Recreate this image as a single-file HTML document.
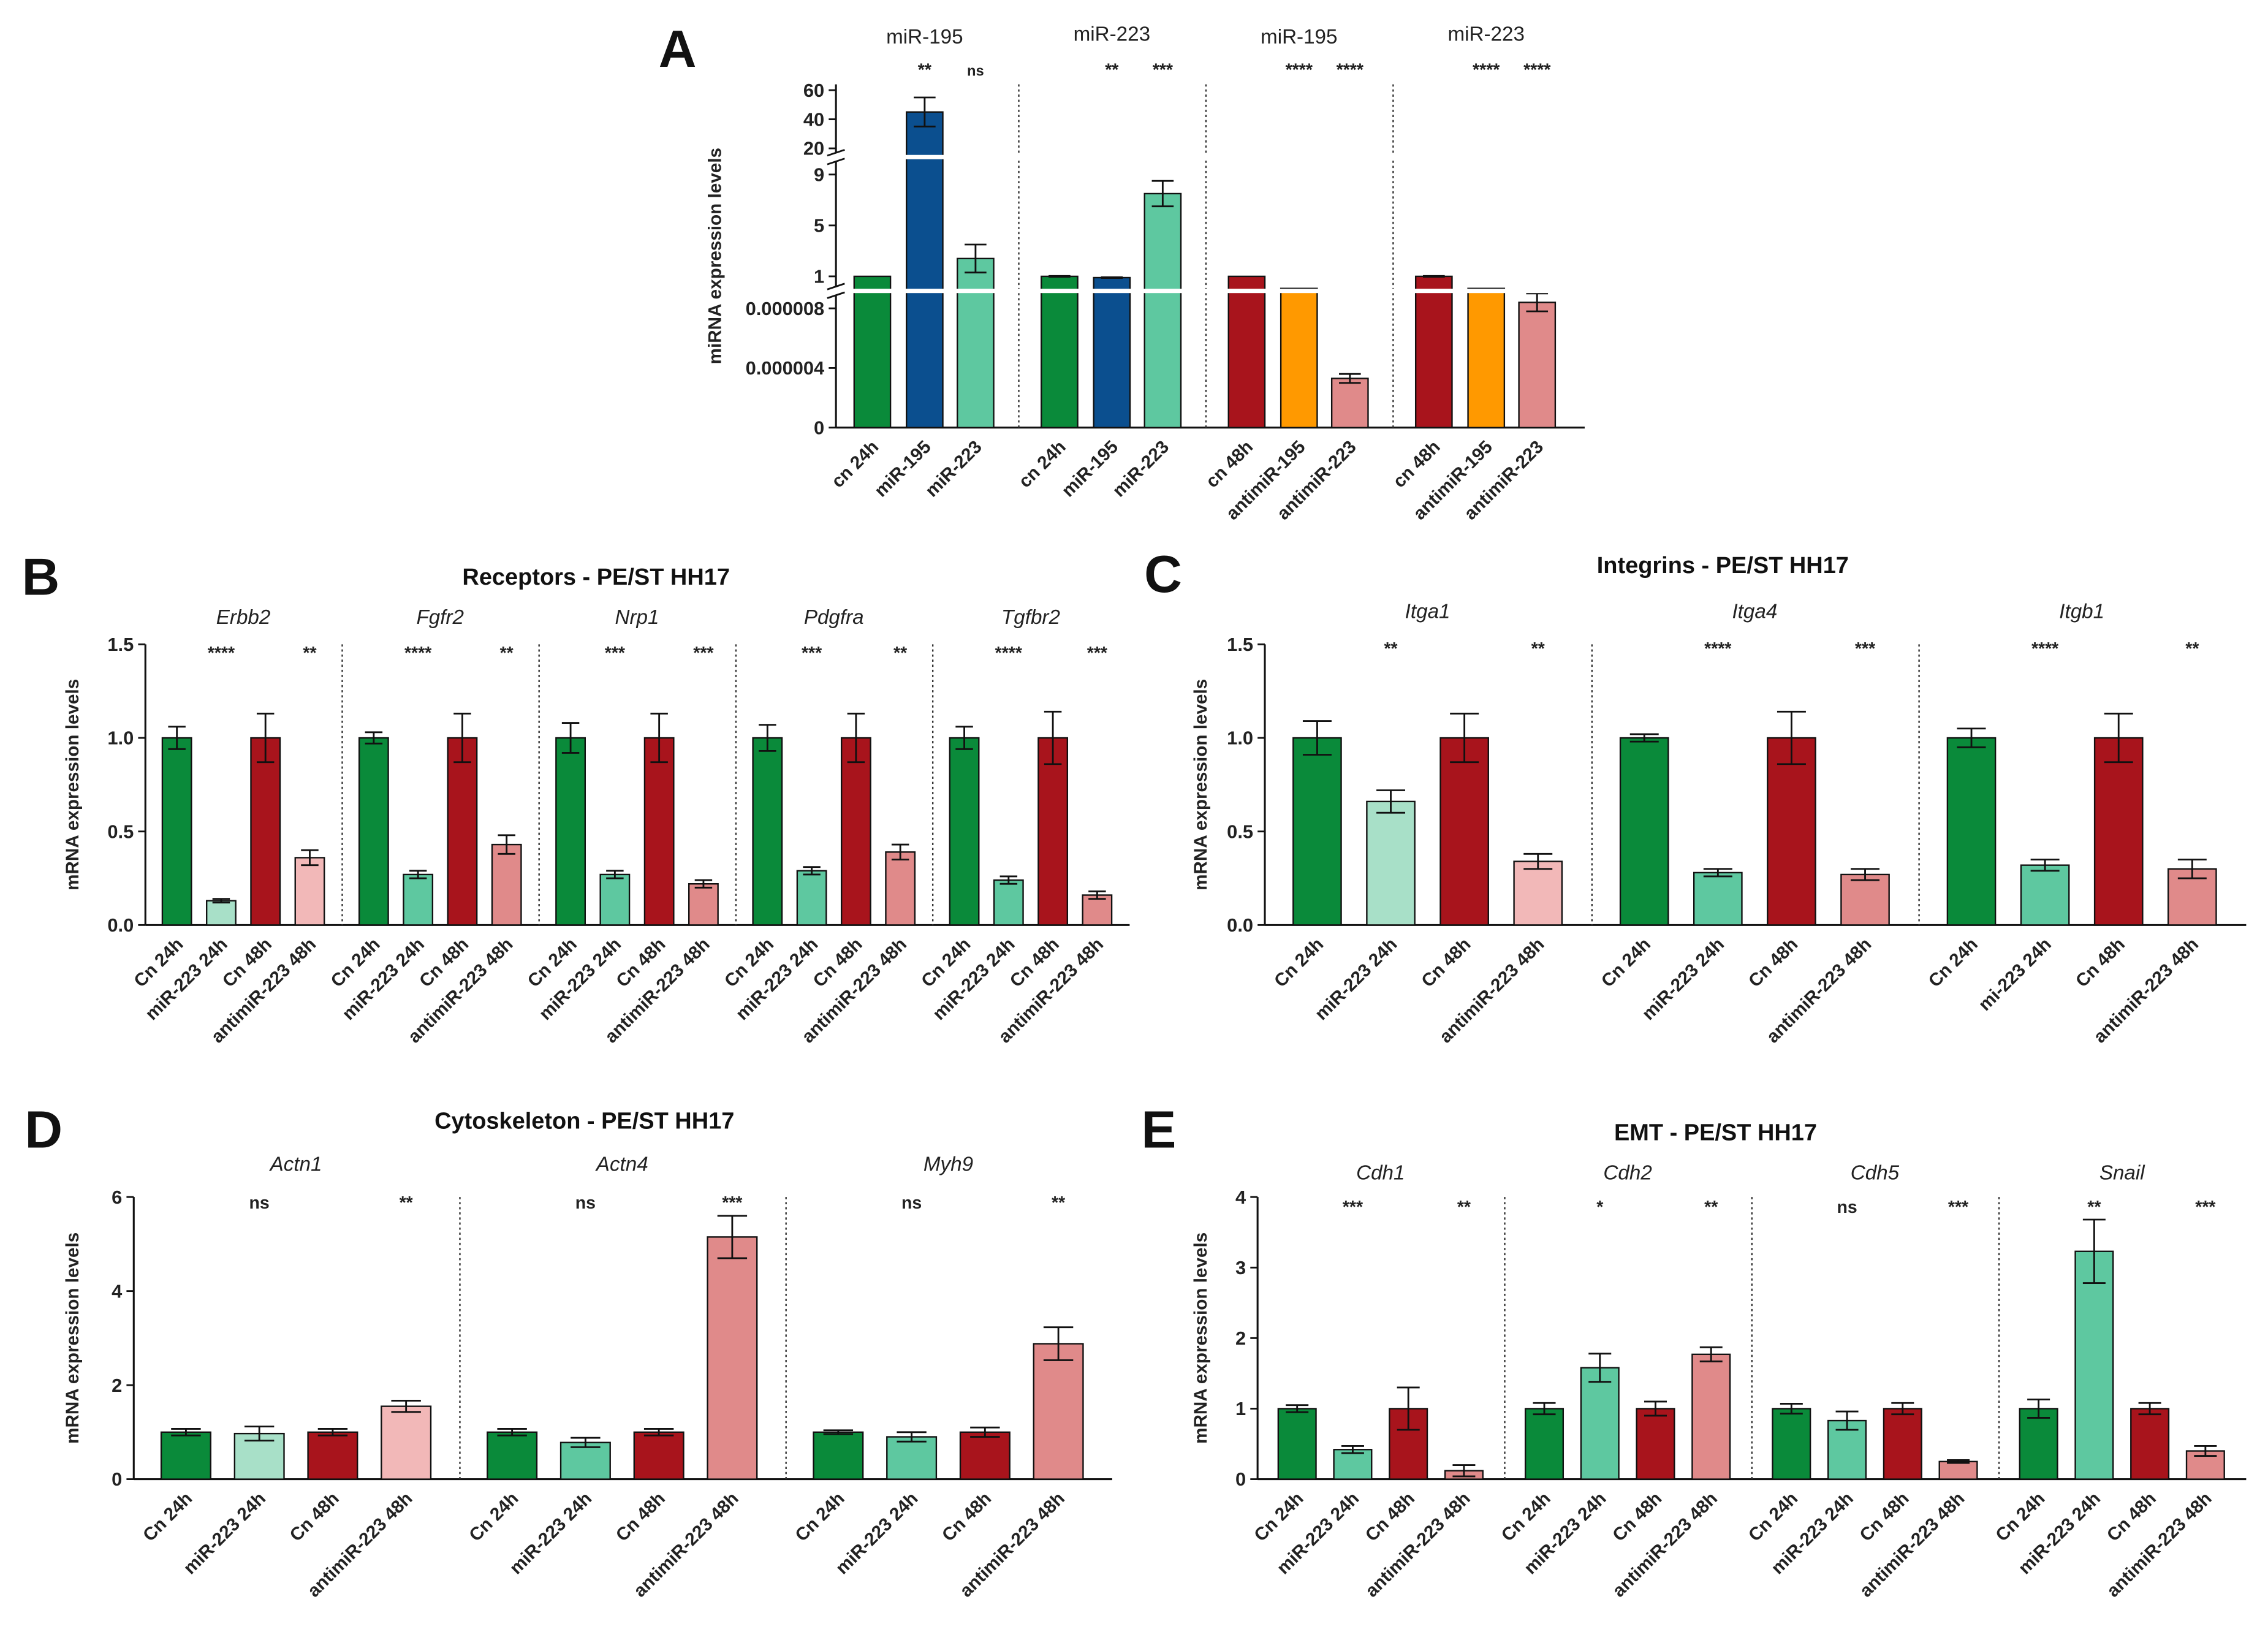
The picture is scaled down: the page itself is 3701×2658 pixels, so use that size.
<!DOCTYPE html>
<html><head><meta charset="utf-8"><style>
html,body{margin:0;padding:0;background:#fff;}
svg{display:block;font-family:"Liberation Sans",sans-serif;}
</style></head><body>
<svg id="fig" width="3701" height="2658" viewBox="0 0 1560 1120" preserveAspectRatio="none" xmlns="http://www.w3.org/2000/svg">
<rect width="1560" height="1120" fill="#fff"/>
</svg>
<script>
const NS="http://www.w3.org/2000/svg";
const svg=document.getElementById('fig');
const C={dg:"#0a8a3a",db:"#0b4f8f",mg:"#5ec8a0",lg:"#a8e0c8",dr:"#a8141c",or:"#ff9900",pk:"#e08a8a",lp:"#f2b8b8"};

// ---------- Panel A data ----------
const A_groups=["miR-195","miR-223","miR-195","miR-223"];
const A_labels=[["cn 24h","miR-195","miR-223"],["cn 24h","miR-195","miR-223"],["cn 48h","antimiR-195","antimiR-223"],["cn 48h","antimiR-195","antimiR-223"]];
const A_values=[[1,45,2.4],[1,0.9,7.5],[1,0.05,0.0000033],[1,0.05,0.0000084]];
const A_errors=[[0,10,1.1],[0.03,0.03,1],[0,0,0.0000003],[0.03,0,0.0000006]];
const A_stars=[["**","ns"],["**","***"],["****","****"],["****","****"]];
const A_colors=[[C.dg,C.db,C.mg],[C.dg,C.db,C.mg],[C.dr,C.or,C.pk],[C.dr,C.or,C.pk]];
const A_ticks=[60,40,20,9,5,1,0.000008,0.000004,0];
const A_tickLabels=["60","40","20","9","5","1","0.000008","0.000004","0"];

// ---------- Panel B ----------
const B_genes=["Erbb2","Fgfr2","Nrp1","Pdgfra","Tgfbr2"];
const B_labels=["Cn 24h","miR-223 24h","Cn 48h","antimiR-223 48h"];
const B_values=[[1,0.13,1,0.36],[1,0.27,1,0.43],[1,0.27,1,0.22],[1,0.29,1,0.39],[1,0.24,1,0.16]];
const B_errors=[[0.06,0.01,0.13,0.04],[0.03,0.02,0.13,0.05],[0.08,0.02,0.13,0.02],[0.07,0.02,0.13,0.04],[0.06,0.02,0.14,0.02]];
const B_stars=[["****","**"],["****","**"],["***","***"],["***","**"],["****","***"]];
const B_ticks=[0,0.5,1.0,1.5];
const B_tickLabels=["0.0","0.5","1.0","1.5"];

// ---------- Panel C ----------
const C_genes=["Itga1","Itga4","Itgb1"];
const C_labels=[["Cn 24h","miR-223 24h","Cn 48h","antimiR-223 48h"],["Cn 24h","miR-223 24h","Cn 48h","antimiR-223 48h"],["Cn 24h","mi-223 24h","Cn 48h","antimiR-223 48h"]];
const C_values=[[1,0.66,1,0.34],[1,0.28,1,0.27],[1,0.32,1,0.3]];
const C_errors=[[0.09,0.06,0.13,0.04],[0.02,0.02,0.14,0.03],[0.05,0.03,0.13,0.05]];
const C_stars=[["**","**"],["****","***"],["****","**"]];
const C_ticks=[0,0.5,1.0,1.5];
const C_tickLabels=["0.0","0.5","1.0","1.5"];

// ---------- Panel D ----------
const D_genes=["Actn1","Actn4","Myh9"];
const D_labels=["Cn 24h","miR-223 24h","Cn 48h","antimiR-223 48h"];
const D_values=[[1,0.97,1,1.55],[1,0.78,1,5.15],[1,0.9,1,2.88]];
const D_errors=[[0.07,0.15,0.07,0.12],[0.07,0.1,0.07,0.45],[0.04,0.1,0.1,0.35]];
const D_stars=[["ns","**"],["ns","***"],["ns","**"]];
const D_ticks=[0,2,4,6];
const D_tickLabels=["0","2","4","6"];

// ---------- Panel E ----------
const E_genes=["Cdh1","Cdh2","Cdh5","Snail"];
const E_labels=["Cn 24h","miR-223 24h","Cn 48h","antimiR-223 48h"];
const E_values=[[1,0.42,1,0.12],[1,1.58,1,1.77],[1,0.83,1,0.25],[1,3.23,1,0.4]];
const E_errors=[[0.05,0.05,0.3,0.08],[0.08,0.2,0.1,0.1],[0.07,0.13,0.08,0.02],[0.13,0.45,0.08,0.07]];
const E_stars=[["***","**"],["*","**"],["ns","***"],["**","***"]];
const E_ticks=[0,1,2,3,4];
const E_tickLabels=["0","1","2","3","4"];

function el(tag,attrs,parent){const e=document.createElementNS(NS,tag);for(const k in attrs)e.setAttribute(k,attrs[k]);(parent||svg).appendChild(e);return e;}
function txt(x,y,s,attrs,parent){const t=el('text',Object.assign({x:x,y:y},attrs||{}),parent);t.textContent=s;return t;}
function grp(name){const g=el('g',{});return g;}

function drawBar(g,cx,w,y0,y1,color,errTop,errBot,name){
  const r=el('rect',{x:cx-w/2,y:Math.min(y0,y1),width:w,height:Math.abs(y0-y1),fill:color,stroke:"#111","stroke-width":1},g);
  
  
  if(errTop!==null&&Math.abs(errTop-errBot)>0.5){
    const cw=w*0.3;
    el('line',{x1:cx,x2:cx,y1:errTop,y2:errBot,stroke:"#111","stroke-width":1.2},g);
    el('line',{x1:cx-cw,x2:cx+cw,y1:errTop,y2:errTop,stroke:"#111","stroke-width":1.2},g);
    el('line',{x1:cx-cw,x2:cx+cw,y1:errBot,y2:errBot,stroke:"#111","stroke-width":1.2},g);
  }
}
function xLabel(g,cx,y,s,fs){
  const t=txt(0,0,s,{"font-size":fs,"font-weight":"bold","text-anchor":"end",fill:"#222",transform:`translate(${cx+5},${y}) rotate(-45)`},g);
  
  
}
function letter(x,y,s){const t=txt(x,y,s,{"font-size":36,"font-weight":"bold",fill:"#111","text-anchor":"middle"});}

// ---------- generic panel ----------
function panel(o){
  const g=grp(o.name);
  const yv=v=>o.y0-(v/o.ymax)*(o.y0-o.ytop);
  // axes
  el('line',{x1:o.ax,x2:o.ax,y1:o.ytop,y2:o.y0,stroke:"#111","stroke-width":1.3},g);
  el('line',{x1:o.ax,x2:o.axEnd,y1:o.y0,y2:o.y0,stroke:"#111","stroke-width":1.3},g);
  o.ticks.forEach((t,i)=>{const y=yv(t);el('line',{x1:o.ax-5,x2:o.ax,y1:y,y2:y,stroke:"#111","stroke-width":1.2},g);
    const tl=txt(o.ax-8,y+4.5,o.tickLabels[i],{"font-size":13,"font-weight":"bold","text-anchor":"end",fill:"#222"},g);
    });
  const yt=txt(0,0,"mRNA expression levels",{"font-size":12.5,"font-weight":"bold","text-anchor":"middle",fill:"#222",transform:`translate(${o.ytx},${(o.y0+o.ytop)/2}) rotate(-90)`},g);
  
  const tt=txt(o.titleX,o.titleY,o.title,{"font-size":16,"font-weight":"bold","text-anchor":"middle",fill:"#111","xml:space":"preserve"},g);
  
  const n=o.genes.length, gw=(o.axEnd-o.ax-o.pad)/n;
  for(let i=0;i<n;i++){
    const gx=o.ax+o.pad/2+gw*i;
    if(i>0) el('line',{x1:gx,x2:gx,y1:o.ytop,y2:o.y0,stroke:"#333","stroke-width":1,"stroke-dasharray":"1.5,2"},g);
    const cs=[];for(let j=0;j<4;j++)cs.push(gx+gw*(0.16+0.225*j));
    const gn=txt((cs[0]+cs[3])/2,o.geneY,o.genes[i],{"font-size":14,"font-style":"italic",fill:"#222","text-anchor":"middle"},g);
    
    const cols=o.colors(i);
    for(let j=0;j<4;j++){
      const v=o.values[i][j],e=o.errors[i][j];
      drawBar(g,cs[j],o.bw,o.y0,yv(v),cols[j],yv(v+e),yv(Math.max(0,v-e)),'bar-'+o.genes[i].toLowerCase()+'-'+j);
      const lab=Array.isArray(o.labels[0])?o.labels[i][j]:o.labels[j];
      xLabel(g,cs[j],o.y0+14,lab,12.5);
    }
    [1,3].forEach((j,k)=>{const s=txt(cs[j],o.starY,o.stars[i][k],{"font-size":12,"font-weight":"bold","text-anchor":"middle",fill:"#222"},g);
      });
  }
}

// ---------- Panel A ----------
(function(){
  const g=grp('panel-a');
  const ax=575,axEnd=1090,y0=294;
  const yA=v=> v<=0.00001 ? y0-v/0.000008*82 : (v<=10 ? 198.75-v*8.75 : 122-v);
  el('line',{x1:ax,x2:ax,y1:58,y2:y0,stroke:"#111","stroke-width":1.3},g);
  el('line',{x1:ax,x2:axEnd,y1:y0,y2:y0,stroke:"#111","stroke-width":1.3},g);
  A_ticks.forEach((t,i)=>{const y=yA(t);el('line',{x1:ax-5,x2:ax,y1:y,y2:y,stroke:"#111","stroke-width":1.2},g);
    const tl=txt(ax-8,y+4.5,A_tickLabels[i],{"font-size":13,"font-weight":"bold","text-anchor":"end",fill:"#222"},g);
    });
  const yt=txt(0,0,"miRNA expression levels",{"font-size":12.5,"font-weight":"bold","text-anchor":"middle",fill:"#222",transform:`translate(496,176) rotate(-90)`},g);
  
  const gw=(axEnd-ax)/4;
  for(let i=0;i<4;i++){
    const gx=ax+gw*i;
    if(i>0) el('line',{x1:gx-3,x2:gx-3,y1:58,y2:y0,stroke:"#333","stroke-width":1,"stroke-dasharray":"1.5,2"},g);
    const cs=[gx+25,gx+61,gx+96];
    const gl=txt(cs[1],i%2?28:30,A_groups[i],{"font-size":14,fill:"#222","text-anchor":"middle"},g);
    
    for(let j=0;j<3;j++){
      const v=A_values[i][j],e=A_errors[i][j];
      drawBar(g,cs[j],25,y0,yA(v),A_colors[i][j],yA(v+e),yA(Math.max(0,v-e)),'bar-a-'+i+'-'+j);
      xLabel(g,cs[j],y0+14,A_labels[i][j],12.5);
    }
    [1,2].forEach((j,k)=>{const s=txt(cs[j],52,A_stars[i][k],{"font-size":A_stars[i][k]=="ns"?10:12,"font-weight":"bold","text-anchor":"middle",fill:"#222"},g);
      });
  }
  // axis breaks
  [108,200].forEach(y=>{
    el('rect',{x:580,y:y-1.5,width:510,height:3,fill:"#fff"},g);
    el('rect',{x:571,y:y-3,width:8,height:6,fill:"#fff"},g);
    el('line',{x1:569,x2:581,y1:y-1,y2:y-5,stroke:"#111","stroke-width":1.2},g);
    el('line',{x1:569,x2:581,y1:y+5,y2:y+1,stroke:"#111","stroke-width":1.2},g);
  });
})();
letter(466,46,"A");

panel({name:'panel-b',genes:B_genes,labels:B_labels,values:B_values,errors:B_errors,stars:B_stars,ticks:B_ticks,tickLabels:B_tickLabels,
  ax:100,axEnd:777,pad:0,y0:636,ytop:443,ymax:1.5,bw:20,ytx:54,title:"Receptors -  PE/ST HH17",titleX:410,titleY:402,geneY:429,starY:453,
  colors:i=>i==0?[C.dg,C.lg,C.dr,C.lp]:[C.dg,C.mg,C.dr,C.pk]});
letter(28,409,"B");

panel({name:'panel-c',genes:C_genes,labels:C_labels,values:C_values,errors:C_errors,stars:C_stars,ticks:C_ticks,tickLabels:C_tickLabels,
  ax:870,axEnd:1545,pad:0,y0:636,ytop:443,ymax:1.5,bw:33,ytx:830,title:"Integrins -  PE/ST HH17",titleX:1185,titleY:394,geneY:425,starY:450,
  colors:i=>i==0?[C.dg,C.lg,C.dr,C.lp]:[C.dg,C.mg,C.dr,C.pk]});
letter(800,407,"C");

panel({name:'panel-d',genes:D_genes,labels:D_labels,values:D_values,errors:D_errors,stars:D_stars,ticks:D_ticks,tickLabels:D_tickLabels,
  ax:92,axEnd:765,pad:0,y0:1017,ytop:823,ymax:6,bw:34,ytx:54,title:"Cytoskeleton -  PE/ST HH17",titleX:402,titleY:776,geneY:805,starY:831,
  colors:i=>i==0?[C.dg,C.lg,C.dr,C.lp]:[C.dg,C.mg,C.dr,C.pk]});
letter(30,789,"D");

panel({name:'panel-e',genes:E_genes,labels:E_labels,values:E_values,errors:E_errors,stars:E_stars,ticks:E_ticks,tickLabels:E_tickLabels,
  ax:865,axEnd:1545,pad:0,y0:1017,ytop:823,ymax:4,bw:26,ytx:830,title:"EMT -  PE/ST HH17",titleX:1180,titleY:784,geneY:811,starY:834,
  colors:i=>[C.dg,C.mg,C.dr,C.pk]});
letter(797,789,"E");
</script>
</body></html>
